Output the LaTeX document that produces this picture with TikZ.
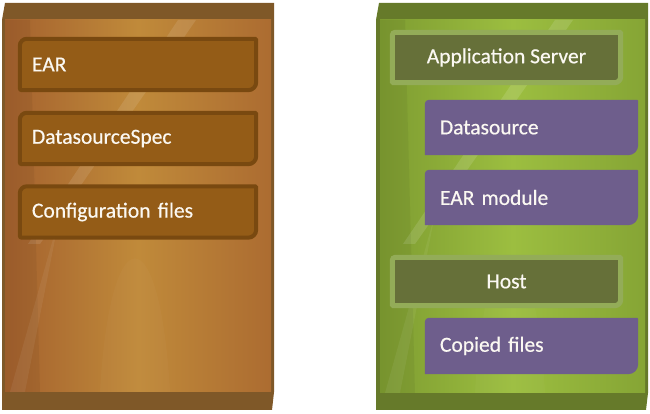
\documentclass[tikz,border=0pt]{standalone}
\usepackage{fontspec}
\setmainfont{Carlito}[FakeBold=0.5]
\usetikzlibrary{calc}
\pgfdeclarelayer{bg}
\pgfdeclarelayer{mid}
\pgfsetlayers{bg,mid,main}
\definecolor{brbar}{HTML}{7F5828}
\definecolor{brleft}{HTML}{A4612E}
\definecolor{brmid}{HTML}{C08A3A}
\definecolor{brright}{HTML}{AC6C31}
\definecolor{brbox}{HTML}{945C17}
\definecolor{brboxline}{HTML}{794910}
\definecolor{grbar}{HTML}{667A2A}
\definecolor{grleft}{HTML}{7E9C31}
\definecolor{grmid}{HTML}{9CBE40}
\definecolor{grright}{HTML}{86A535}
\definecolor{olbox}{HTML}{667039}
\definecolor{olline}{HTML}{93AC58}
\definecolor{purp}{HTML}{6E5E8C}
\definecolor{txtc}{HTML}{FBF8F2}
\newcommand\slabfill[6]{%
  \path[#1] let \p1=(#2.north west), \p2=(#2.south east) in
  (\x1+#3,\y1) -- (\x2-#4,\y1) arc[start angle=90,end angle=0,radius=#4]
  -- (\x2,\y2+#5) arc[start angle=0,end angle=-90,radius=#5]
  -- (\x1+#6,\y2) arc[start angle=-90,end angle=-180,radius=#6]
  -- (\x1,\y1-#3) arc[start angle=180,end angle=90,radius=#3] -- cycle;}
\tikzset{
  txt/.style={font=\fontsize{21.5}{24}\selectfont, text=txtc},
  lbox/.style={txt, minimum height=51pt, inner xsep=12pt, text width=212pt, align=left},
  pbox/.style={txt, minimum height=55pt, inner xsep=15pt, text width=183pt, align=left},
  obox/.style={txt, minimum width=228pt, minimum height=50pt, align=center},
}
\begin{document}
\begin{tikzpicture}[x=1pt,y=1pt]
\useasboundingbox (0,0) rectangle (650,414);
% panels
\begin{pgfonlayer}{bg}
\fill[brbar] (5,411) -- (274,411) -- (274,22) -- (272,4) -- (2,4) -- (2,394) -- cycle;
\shade[left color=brleft, right color=brright, middle color=brmid] (5,394) rectangle (271,22);
\begin{scope}
\clip (5,394) rectangle (271,22);
\fill[white, opacity=0.10] (178,394) -- (196,394) -- (40,170) -- (28,170) -- cycle;
\fill[black, opacity=0.05] (5,394) -- (30,394) -- (40,22) -- (5,22) -- cycle;
\fill[white, opacity=0.025] (100,22) .. controls (110,200) and (160,200) .. (170,22) -- cycle;
\fill[white, opacity=0.06] (10,22) -- (25,22) -- (60,200) -- cycle;
\end{scope}
\fill[grbar] (379,411) -- (648,411) -- (648,21) -- (646,4) -- (376,4) -- (376,394) -- cycle;
\shade[left color=grleft, right color=grright, middle color=grmid] (380,394) rectangle (645,21);
\begin{scope}
\clip (380,394) rectangle (645,21);
\fill[white, opacity=0.12] (555,394) -- (573,394) -- (415,170) -- (403,170) -- cycle;
\fill[black, opacity=0.05] (380,394) -- (405,394) -- (415,21) -- (380,21) -- cycle;
\fill[white, opacity=0.025] (475,21) .. controls (485,200) and (535,200) .. (545,21) -- cycle;
\fill[white, opacity=0.06] (385,21) -- (400,21) -- (435,200) -- cycle;
\end{scope}
\end{pgfonlayer}
% left boxes
\node[lbox] (ear) at (138,349.5) {EAR};
\node[lbox] (dss) at (138,275.5) {DatasourceSpec};
\node[lbox] (cfg) at (138,202) {Configuration files};
% right boxes
\node[obox] (as) at (506.5,356.5) {Application Server};
\node[pbox] (ds) at (531.5,286.5) {Datasource};
\node[pbox] (em) at (531.5,216.5) {EAR module};
\node[obox, minimum height=48pt] (host) at (506.5,132.5) {Host};
\node[pbox, minimum height=56pt] (cf) at (531.5,68) {Copied files};
\begin{pgfonlayer}{mid}
\foreach \bx in {ear,dss,cfg}{\slabfill{fill=brbox, draw=brboxline, line width=4pt}{\bx}{7pt}{1pt}{8pt}{2pt}}
\foreach \bx in {as,host}{\slabfill{fill=olbox, draw=olline, line width=5pt}{\bx}{3pt}{1pt}{6pt}{1pt}}
\foreach \bx in {ds,em,cf}{\slabfill{fill=purp}{\bx}{4pt}{1pt}{10pt}{0.5pt}}
\end{pgfonlayer}
\end{tikzpicture}
\end{document}
